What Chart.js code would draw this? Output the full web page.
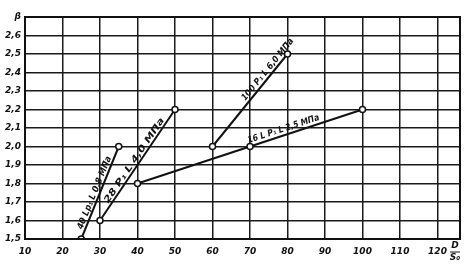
<!DOCTYPE html>
<html><head><meta charset="utf-8">
<script src="https://cdn.jsdelivr.net/npm/chart.js@4"></script>
<style>html,body{margin:0;padding:0;background:#fff;}#wrap{width:467px;height:270px;position:relative}</style>
</head><body><div id="wrap"><canvas id="c"></canvas></div>
<script>
// ---- data ----
const xTicks = [10,20,30,40,50,60,70,80,90,100,110,120];
const yTicks = [1.5,1.6,1.7,1.8,1.9,2.0,2.1,2.2,2.3,2.4,2.5,2.6,2.7];
const yTickLabels = ["1,5","1,6","1,7","1,8","1,9","2,0","2,1","2,2","2,3","2,4","2,5","2,6","β"];
const series1X = [25,35];      const series1Y = [1.5,2.0];
const series2X = [30,50];      const series2Y = [1.6,2.2];
const series3X = [40,70,100];  const series3Y = [1.8,2.0,2.2];
const series4X = [60,80];      const series4Y = [2.0,2.5];
const seriesLabels = ["40 Lp₁ L 0,8 МПа","28 P₁ L 4,0 МПа","16 L P₁ L 2,5 МПа","100 P₁ L 6,0 МПа"];
const xAxisTitleTop = "D"; const xAxisTitleBottom = "S₀";

const pts = (xs,ys)=>xs.map((v,i)=>({x:v,y:ys[i]}));
const mk = (xs,ys,label)=>({label, data:pts(xs,ys), showLine:true, borderColor:'#111', borderWidth:2,
  pointRadius:3, pointBackgroundColor:'#fff', pointBorderColor:'#111', pointBorderWidth:1.5});

// label placement: dataset, segment start index, start frac, end frac, perpendicular offset
const labelPlacement = [
  {ds:0, seg:0, f0:0.09, f1:0.87, off:5},
  {ds:1, seg:0, f0:0.14, f1:0.89, off:5},
  {ds:2, seg:1, f0:0.00, f1:0.63, off:6},
  {ds:3, seg:0, f0:0.47, f1:1.12, off:5.5}
];

const labelPlugin = {
  id:'lineLabels',
  afterDatasetsDraw(chart){
    const {ctx, scales:{x,y}} = chart;
    ctx.save();
    ctx.fillStyle='#111';
    ctx.font='italic bold 9px "DejaVu Sans"';
    ctx.textAlign='center'; ctx.textBaseline='middle';
    labelPlacement.forEach(p=>{
      const d = chart.data.datasets[p.ds].data;
      const a = d[p.seg], b = d[p.seg+1];
      const x0=x.getPixelForValue(a.x), y0=y.getPixelForValue(a.y);
      const x1=x.getPixelForValue(b.x), y1=y.getPixelForValue(b.y);
      const dx=x1-x0, dy=y1-y0, len=Math.hypot(dx,dy);
      const ang=Math.atan2(dy,dx);
      const fm=(p.f0+p.f1)/2;
      const cx=x0+dx*fm, cy=y0+dy*fm;
      const nx=dy/len, ny=-dx/len;
      const target=(p.f1-p.f0)*len;
      const txt=seriesLabels[p.ds];
      const w=ctx.measureText(txt).width;
      ctx.save();
      ctx.translate(cx+nx*p.off, cy+ny*p.off);
      ctx.rotate(ang);
      ctx.scale(target/w,1);
      ctx.fillText(txt,0,0);
      ctx.restore();
    });
    // axis title D/S0
    const ax = chart.chartArea.right - 5, ay = 252;
    ctx.font='italic bold 9px "DejaVu Sans"';
    ctx.fillText(xAxisTitleTop, ax, ay-6);
    ctx.fillText(xAxisTitleBottom, ax, ay+6);
    ctx.lineWidth=1; ctx.strokeStyle='#111';
    ctx.beginPath(); ctx.moveTo(ax-5,ay); ctx.lineTo(ax+5,ay); ctx.stroke();
    // frame
    const ca=chart.chartArea;
    ctx.lineWidth=2;
    ctx.strokeRect(ca.left,ca.top,ca.right-ca.left,ca.bottom-ca.top);
    ctx.restore();
  }
};

const tickFont={family:'DejaVu Sans', style:'italic', weight:'bold', size:9};
new Chart(document.getElementById('c'),{
  type:'scatter',
  data:{datasets:[
    mk(series1X,series1Y,seriesLabels[0]),
    mk(series2X,series2Y,seriesLabels[1]),
    mk(series3X,series3Y,seriesLabels[2]),
    mk(series4X,series4Y,seriesLabels[3])
  ]},
  options:{
    responsive:true, maintainAspectRatio:false, animation:false,
    layout:{padding:{top:17,right:7,left:0,bottom:0}},
    plugins:{legend:{display:false}, tooltip:{enabled:false}},
    scales:{
      x:{type:'linear', min:10, max:126,
        afterBuildTicks:s=>{s.ticks=xTicks.map(v=>({value:v}));},
        afterFit:s=>{s.height=31;},
        grid:{color:'#1a1a1a', lineWidth:1.5, drawTicks:false},
        border:{color:'#111', width:2},
        ticks:{color:'#111', font:tickFont, padding:7, maxRotation:0, autoSkip:false,
          callback:v=>String(v)}},
      y:{type:'linear', min:1.5, max:2.7,
        afterBuildTicks:s=>{s.ticks=yTicks.map(v=>({value:v}));},
        afterFit:s=>{s.width=25;},
        grid:{color:'#1a1a1a', lineWidth:1.5, drawTicks:false},
        border:{color:'#111', width:2},
        ticks:{color:'#111', font:tickFont, padding:4, autoSkip:false,
          callback:(v)=>{const i=yTicks.findIndex(t=>Math.abs(t-v)<1e-6);return i>=0?yTickLabels[i]:'';}}}
    }
  },
  plugins:[labelPlugin]
});
</script></body></html>
